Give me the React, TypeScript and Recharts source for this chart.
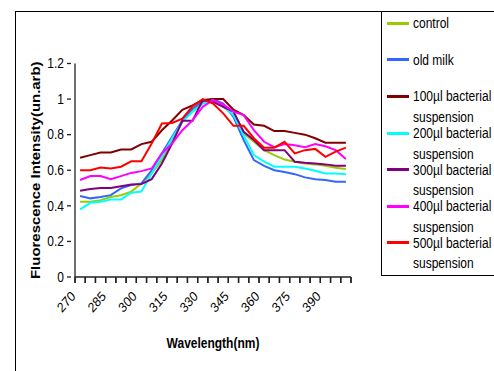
import React from 'react';
import { LineChart, Line, XAxis, YAxis, Legend } from 'recharts';

const wavelengths = [270, 275, 280, 285, 290, 295, 300, 305, 310, 315, 320, 325, 330, 335, 340, 345, 350, 355, 360, 365, 370, 375, 380, 385, 390, 395, 400];
const xTickLabels = ['270', '285', '300', '315', '330', '345', '360', '375', '390'];
const yTicks = [0, 0.2, 0.4, 0.6, 0.8, 1, 1.2];

const control = [0.423, 0.423, 0.432, 0.45, 0.46, 0.48, 0.526, 0.582, 0.657, 0.77, 0.872, 0.938, 0.985, 1.0, 0.957, 0.91, 0.807, 0.76, 0.713, 0.685, 0.66, 0.648, 0.638, 0.633, 0.625, 0.614, 0.607];
const oldMilk = [0.455, 0.442, 0.45, 0.46, 0.498, 0.517, 0.526, 0.6, 0.695, 0.788, 0.88, 0.947, 0.985, 1.0, 0.975, 0.9, 0.77, 0.657, 0.625, 0.6, 0.59, 0.578, 0.56, 0.55, 0.545, 0.535, 0.535];
const b100 = [0.67, 0.685, 0.7, 0.7, 0.717, 0.717, 0.747, 0.76, 0.825, 0.88, 0.94, 0.965, 0.995, 1.0, 1.0, 0.94, 0.91, 0.857, 0.85, 0.82, 0.82, 0.81, 0.8, 0.78, 0.755, 0.755, 0.755];
const b200 = [0.38, 0.417, 0.423, 0.436, 0.436, 0.474, 0.48, 0.582, 0.676, 0.78, 0.872, 0.928, 0.975, 0.994, 0.96, 0.91, 0.797, 0.685, 0.648, 0.62, 0.62, 0.62, 0.61, 0.597, 0.582, 0.582, 0.577];
const b300 = [0.485, 0.494, 0.5, 0.5, 0.51, 0.52, 0.522, 0.55, 0.638, 0.75, 0.878, 0.878, 0.994, 0.985, 0.957, 0.93, 0.816, 0.77, 0.713, 0.713, 0.713, 0.648, 0.642, 0.638, 0.633, 0.625, 0.625];
const b400 = [0.545, 0.567, 0.567, 0.55, 0.567, 0.585, 0.595, 0.61, 0.695, 0.75, 0.825, 0.88, 0.957, 0.994, 0.97, 0.93, 0.91, 0.825, 0.76, 0.73, 0.747, 0.74, 0.73, 0.747, 0.735, 0.713, 0.663];
const b500 = [0.6, 0.6, 0.615, 0.61, 0.62, 0.65, 0.65, 0.75, 0.863, 0.866, 0.89, 0.96, 1.0, 0.975, 0.92, 0.85, 0.85, 0.78, 0.727, 0.727, 0.76, 0.695, 0.713, 0.72, 0.675, 0.705, 0.727];

const seriesValues = [control, oldMilk, b100, b200, b300, b400, b500];
const seriesNames = [
  'control',
  'old milk',
  '100µl bacterial suspension',
  '200µl bacterial suspension',
  '300µl bacterial suspension',
  '400µl bacterial suspension',
  '500µl bacterial suspension',
];
const seriesColors = ['#99CC00', '#3366FF', '#800000', '#00FFFF', '#800080', '#FF00FF', '#FF0000'];

const data = wavelengths.map((w, i) => {
  const row: Record<string, number> = { pos: i + 0.5, wavelength: w };
  seriesValues.forEach((s, k) => {
    row['s' + k] = s[i];
  });
  return row;
});

// chart layout constants
const CHART_W = 494;
const CHART_H = 371;
const MARGIN = { top: 63.5, right: 143, bottom: 0, left: 15 };
const Y_AXIS_W = 60;
const X_AXIS_H = 94;
const PLOT_W = CHART_W - MARGIN.left - MARGIN.right - Y_AXIS_W;
const PLOT_BOTTOM = CHART_H - MARGIN.bottom - X_AXIS_H;
const BAND = PLOT_W / wavelengths.length;

const boundaryTicks = wavelengths.map((_, i) => i).concat([wavelengths.length]);

const FONT = '"Liberation Sans", Arial, sans-serif';
const STRETCH = 1.15;
const AXIS_COLOR = '#222';

const YTick = (props: any) => {
  const { x, y, payload } = props;
  return (
    <g>
      <line x1={x + 3} x2={x + 7} y1={y} y2={y} stroke={AXIS_COLOR} strokeWidth={1.3} />
      <text
        transform={`translate(${x},${y}) scale(1,${STRETCH})`}
        textAnchor="end"
        dominantBaseline="central"
        fontSize={12}
        fontFamily={FONT}
        fill="#000"
      >
        {String(payload.value)}
      </text>
    </g>
  );
};

const XTick = (props: any) => {
  const { x, payload } = props;
  const idx = payload.value;
  const w = wavelengths[idx];
  const tickMark = (
    <line x1={x} x2={x} y1={PLOT_BOTTOM} y2={PLOT_BOTTOM + 6} stroke="#222" strokeWidth={1.3} />
  );
  if (w === undefined || !xTickLabels.includes(String(w))) return <g>{tickMark}</g>;
  const cx = x + BAND / 2;
  return (
    <g>
      {tickMark}
      <text
        transform={`translate(${cx - 4},${PLOT_BOTTOM + 20}) scale(1,${STRETCH}) rotate(-45)`}
        textAnchor="end"
        fontSize={12}
        fontFamily={FONT}
        fill="#000"
      >
        {String(w)}
      </text>
    </g>
  );
};

const YTitle = (props: any) => {
  const { viewBox } = props;
  const cx = viewBox.x + 20;
  const cy = viewBox.y + viewBox.height / 2;
  return (
    <text
      transform={`translate(${cx},${cy}) scale(1,${STRETCH}) rotate(-90)`}
      textAnchor="middle"
      dominantBaseline="central"
      fontSize={13}
      fontWeight="bold"
      fontFamily={FONT}
      fill="#000"
    >
      Fluorescence Intensity(un.arb)
    </text>
  );
};

// X title; also draws the category-boundary tick marks along the axis box
const XTitle = (props: any) => {
  const { viewBox } = props;
  const cx = viewBox.x + viewBox.width / 2;
  const cy = viewBox.y + 66;
  const step = viewBox.width / wavelengths.length;
  return (
    <g>
      {boundaryTicks.map((b) => {
        const tx = viewBox.x + b * step;
        return (
          <rect key={b} x={tx - 0.7} y={viewBox.y} width={1.4} height={6} fill="#222" />
        );
      })}
      <text
        transform={`translate(${cx},${cy}) scale(1,${STRETCH})`}
        textAnchor="middle"
        dominantBaseline="central"
        fontSize={12}
        fontWeight="bold"
        fontFamily={FONT}
        fill="#000"
      >
        Wavelength(nm)
      </text>
    </g>
  );
};

const renderLegend = () => (
  <div
    style={{
      boxSizing: 'border-box',
      width: '100%',
      height: '100%',
      borderLeft: '1px solid #000',
      borderTop: '1px solid #000',
      borderBottom: '1px solid #000',
      paddingTop: 1,
      paddingLeft: 5,
      fontFamily: FONT,
      fontSize: 12,
      color: '#000',
    }}
  >
    {seriesNames.map((name, i) => {
      const words = name.split(' ');
      const first = words.length > 1 ? words.slice(0, 2).join(' ') : name;
      const second = words.length > 2 ? words.slice(2).join(' ') : '';
      return (
        <div key={name} style={{ height: 36.6, position: 'relative' }}>
          <div style={{ display: 'flex', alignItems: 'center', height: 20.5 }}>
            <div style={{ width: 22, height: 3, background: seriesColors[i], marginRight: 4 }} />
            <span style={{ display: 'inline-block', transform: `scaleY(${STRETCH})`, whiteSpace: 'nowrap' }}>{first}</span>
          </div>
          {second && (
            <div style={{ display: 'flex', alignItems: 'center', height: 20.5, paddingLeft: 26 }}>
              <span style={{ display: 'inline-block', transform: `scaleY(${STRETCH})`, whiteSpace: 'nowrap' }}>{second}</span>
            </div>
          )}
        </div>
      );
    })}
  </div>
);

export default function App() {
  return (
    <div
      style={{
        position: 'absolute',
        left: 0,
        top: 0,
        width: CHART_W,
        height: CHART_H,
        overflow: 'hidden',
        background: '#fff',
      }}
    >
      <div
        style={{
          position: 'absolute',
          left: 15,
          top: 11,
          width: 600,
          height: 500,
          borderLeft: '1px solid #000',
          borderTop: '1px solid #000',
        }}
      />
      <div style={{ position: 'absolute', left: 0, top: 0 }}>
        <LineChart width={CHART_W} height={CHART_H} data={data} margin={MARGIN}>
          <YAxis
            domain={[0, 1.2]}
            ticks={yTicks}
            width={Y_AXIS_W}
            tickSize={4}
            tickMargin={7}
            axisLine={{ stroke: AXIS_COLOR, strokeWidth: 1.3 }}
            tickLine={false}
            tick={<YTick />}
            interval={0}
            label={{ content: <YTitle /> }}
            allowDataOverflow
          />
          <XAxis
            dataKey="pos"
            type="number"
            domain={[0, wavelengths.length]}
            ticks={boundaryTicks}
            interval={0}
            height={X_AXIS_H}
            tickSize={5}
            tickMargin={2}
            axisLine={{ stroke: AXIS_COLOR, strokeWidth: 1.3 }}
            tickLine={false}
            tick={<XTick />}
            label={{ content: <XTitle /> }}
          />
          <Legend
            layout="vertical"
            align="center"
            verticalAlign="middle"
            content={renderLegend}
            wrapperStyle={{ left: 381, top: 11, width: 140, height: 265 }}
          />
          {seriesNames.map((name, k) => (
            <Line
              key={name}
              type="linear"
              dataKey={'s' + k}
              name={name}
              stroke={seriesColors[k]}
              strokeWidth={2}
              dot={false}
              isAnimationActive={false}
            />
          ))}
        </LineChart>
      </div>
    </div>
  );
}
